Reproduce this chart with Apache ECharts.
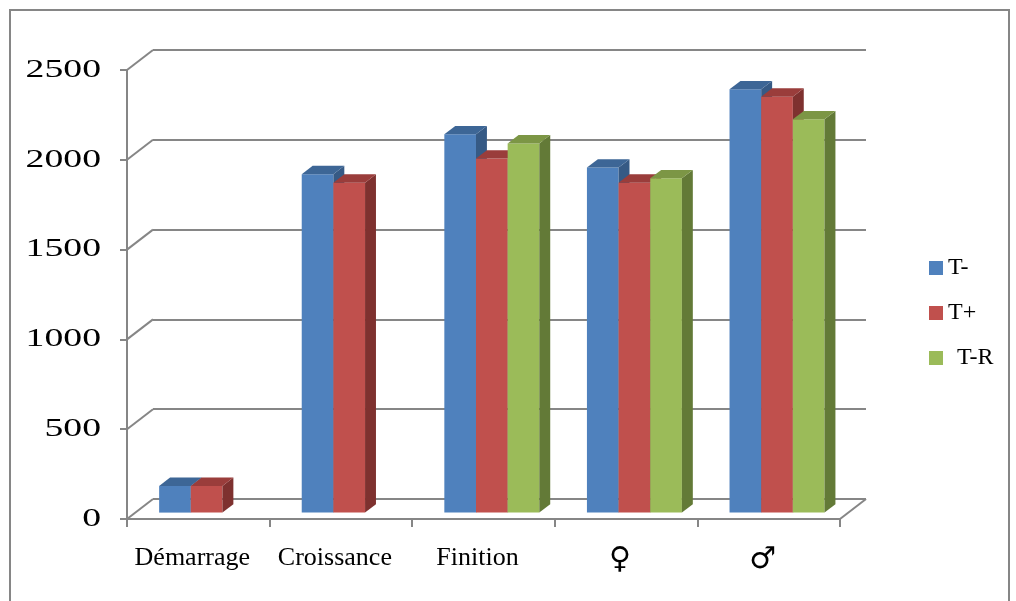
<!DOCTYPE html>
<html>
<head>
<meta charset="utf-8">
<script src="https://cdn.jsdelivr.net/npm/echarts@6/dist/echarts.min.js"></script>
<style>
  html, body { margin: 0; padding: 0; background: #ffffff; }
  #chart { width: 1016px; height: 601px; }
</style>
</head>
<body>
<div id="chart"></div>
<script>
// Categories and values (weight per phase and sex)
const categories = ['Démarrage', 'Croissance', 'Finition', '♀', '♂'];
const seriesNames = ['T-', 'T+', 'T-R'];
const tMinus = [148, 1884, 2106, 1921, 2357];
const tPlus = [148, 1837, 1971, 1837, 2316];
const tR = [null, null, 2055, 1861, 2190];
const yTicks = [0, 500, 1000, 1500, 2000, 2500];

// Pseudo-3D projection: offset of the back wall relative to the front plane
const DEPTH_X = 26;
const DEPTH_Y = -20;
const BAR_FRONT = 0.32;   // depth of the bars' front face
const BAR_DEPTH = 0.42;   // thickness of a bar along the depth
const BAR_FRACTION = 0.222; // width of one bar relative to the category band

const faces = [
  { front: '#4F81BD', top: '#3D6696', side: '#365A85' },
  { front: '#C0504D', top: '#9A3D3B', side: '#7E312F' },
  { front: '#9BBB59', top: '#7C9645', side: '#637A37' }
];

const GRID_GRAY = '#868686';
const FONT = "'Liberation Serif', 'Times New Roman', 'DejaVu Serif', serif";
const SYMBOL_FONT = "'DejaVu Sans', sans-serif";

function barRenderer(seriesIdx) {
  return function (params, api) {
    const val = api.value(1);
    if (val === null || val === undefined || isNaN(val)) return null;
    const idx = api.value(0);
    const base = api.coord([idx, 0]);
    const top = api.coord([idx, val]);
    const band = api.size([1, 0])[0];
    const w = band * BAR_FRACTION;
    const ox = DEPTH_X * BAR_FRONT, oy = DEPTH_Y * BAR_FRONT;
    const dx = DEPTH_X * BAR_DEPTH, dy = DEPTH_Y * BAR_DEPTH;
    const x0 = base[0] - 1.5 * w + seriesIdx * w + ox;
    const x1 = x0 + w;
    const yb = base[1] + oy;
    const yt = top[1] + oy;
    const c = faces[seriesIdx];
    return {
      type: 'group',
      children: [
        { type: 'polygon', shape: { points: [[x0, yt], [x1, yt], [x1, yb], [x0, yb]] },
          style: { fill: c.front } },
        { type: 'polygon', shape: { points: [[x1, yt], [x1 + dx, yt + dy], [x1 + dx, yb + dy], [x1, yb]] },
          style: { fill: c.side } },
        { type: 'polygon', shape: { points: [[x0, yt], [x1, yt], [x1 + dx, yt + dy], [x0 + dx, yt + dy]] },
          style: { fill: c.top } }
      ]
    };
  };
}

// Diagonal edges joining the front axis to the back wall, plus the value labels
function frameRenderer(params, api) {
  const v = api.value(0);
  const band = api.size([1, 0])[0];
  const p = api.coord([0, v]);
  const xl = p[0] - band / 2;
  const children = [
    { type: 'line', shape: { x1: xl, y1: p[1], x2: xl + DEPTH_X, y2: p[1] + DEPTH_Y },
      style: { stroke: GRID_GRAY, lineWidth: 2 } },
    { type: 'text', x: xl - 26, y: p[1], scaleX: 1.45,
      style: { text: String(v), fill: '#000000', fontFamily: FONT, fontSize: 26,
        align: 'right', verticalAlign: 'middle' } }
  ];
  if (v === 0) {
    const q = api.coord([categories.length - 1, 0]);
    const xr = q[0] + band / 2;
    children.push({ type: 'line', shape: { x1: xr, y1: q[1], x2: xr + DEPTH_X, y2: q[1] + DEPTH_Y },
      style: { stroke: GRID_GRAY, lineWidth: 2 } });
  }
  return { type: 'group', children: children };
}

const chart = echarts.init(document.getElementById('chart'), null, { renderer: 'canvas' });

const valueData = [tMinus, tPlus, tR];

chart.setOption({
  animation: false,
  backgroundColor: '#ffffff',
  graphic: [
    { type: 'rect', shape: { x: 10, y: 10, width: 999, height: 610 },
      style: { fill: null, stroke: GRID_GRAY, lineWidth: 2 }, silent: true }
  ],
  legend: {
    orient: 'vertical',
    left: 924,
    top: 251,
    itemWidth: 14,
    itemHeight: 14,
    itemGap: 21,
    icon: 'rect',
    data: seriesNames,
    formatter: function (name) { return name === 'T-R' ? '{g|' + name + '}' : name; },
    textStyle: {
      fontFamily: FONT, fontSize: 24, lineHeight: 24, color: '#000000',
      rich: { g: { fontFamily: FONT, fontSize: 24, lineHeight: 24, color: '#000000', padding: [0, 0, 0, 9] } }
    }
  },
  grid: [
    { left: 153, top: 50, width: 713, height: 449 },
    { left: 127, top: 70, width: 713, height: 449 }
  ],
  xAxis: [
    { type: 'category', gridIndex: 0, data: categories, show: false },
    { type: 'category', gridIndex: 1, data: categories, boundaryGap: true,
      axisLine: { show: true, lineStyle: { color: GRID_GRAY, width: 2 } },
      axisTick: { show: true, interval: 0, length: 8, lineStyle: { color: GRID_GRAY, width: 2 } },
      axisLabel: { interval: 0, fontFamily: FONT, fontSize: 26, color: '#000000', margin: 26,
        padding: [0, 12, 0, 0],
        formatter: function (v) { return (v === '♀' || v === '♂') ? '{s|' + v + '}' : v; },
        rich: { s: { fontFamily: SYMBOL_FONT, fontSize: 30, color: '#000000' } } } }
  ],
  yAxis: [
    { type: 'value', gridIndex: 0, min: 0, max: 2500, interval: 500,
      axisLine: { show: false }, axisTick: { show: false }, axisLabel: { show: false },
      splitLine: { show: true, lineStyle: { color: GRID_GRAY, width: 2 } } },
    { type: 'value', gridIndex: 1, min: 0, max: 2500, interval: 500,
      axisLine: { show: true, lineStyle: { color: GRID_GRAY, width: 2 } },
      axisTick: { show: true, length: 7, lineStyle: { color: GRID_GRAY, width: 2 } },
      axisLabel: { show: false },
      splitLine: { show: false } }
  ],
  series: [
    {
      type: 'custom', name: 'frame', xAxisIndex: 1, yAxisIndex: 1, silent: true,
      data: yTicks.map(v => [v]), encode: { y: 0 }, renderItem: frameRenderer, z: 1
    }
  ].concat(seriesNames.map((name, s) => ({
    type: 'custom',
    name: name,
    xAxisIndex: 1,
    yAxisIndex: 1,
    itemStyle: { color: faces[s].front },
    encode: { x: 0, y: 1 },
    data: categories.map((c, i) => [i, valueData[s][i]]),
    renderItem: barRenderer(s),
    z: 3
  })))
});
</script>
</body>
</html>
